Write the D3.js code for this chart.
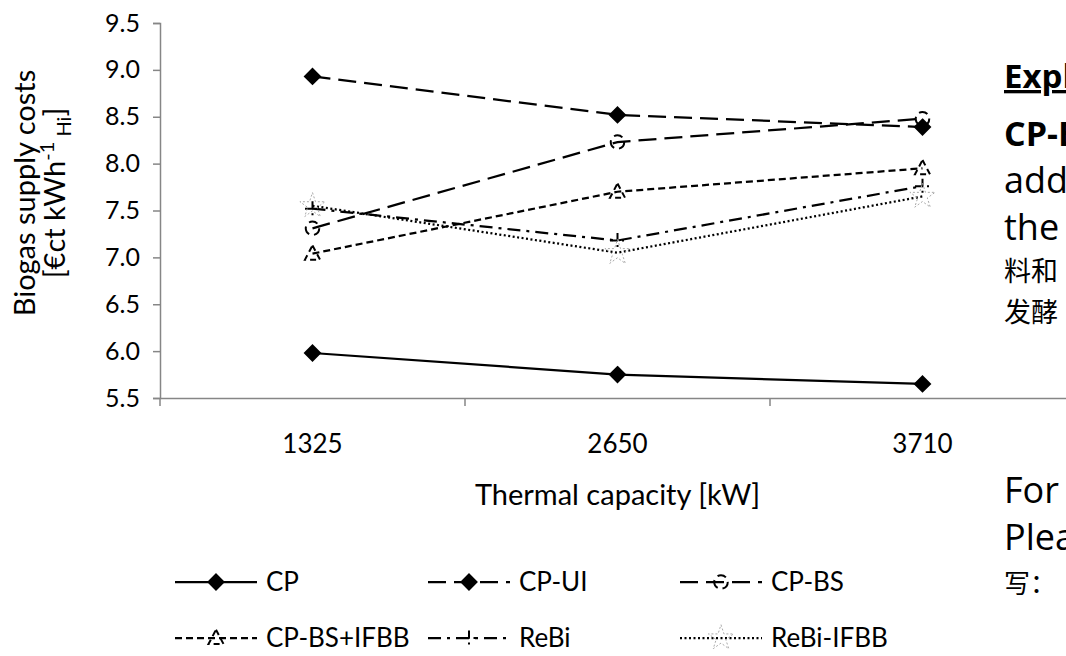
<!DOCTYPE html>
<html>
<head>
<meta charset="utf-8">
<script src="https://cdn.jsdelivr.net/npm/d3@7/dist/d3.min.js"></script>
<style>
  html, body { margin: 0; padding: 0; background: #fff; overflow: hidden; }
  svg { display: block; font-family: Lato, "Open Sans", sans-serif; }
</style>
</head>
<body>
<svg id="chart" width="1066" height="656"></svg>
<script>
// ---- data ----
const categories = ["1325", "2650", "3710"];
const yTicks = [5.5, 6.0, 6.5, 7.0, 7.5, 8.0, 8.5, 9.0, 9.5];
const seriesNames = ["CP", "CP-UI", "CP-BS", "CP-BS+IFBB", "ReBi", "ReBi-IFBB"];
const cpValues = [5.98, 5.75, 5.65];
const cpUiValues = [8.93, 8.52, 8.39];
const cpBsValues = [7.31, 8.23, 8.48];
const cpBsIfbbValues = [7.04, 7.70, 7.95];
const rebiValues = [7.52, 7.18, 7.76];
const rebiIfbbValues = [7.55, 7.05, 7.65];
const noteLines = ["Explanation:", "CP-BS:", "addition", "the", "料和", "发酵", "For", "Please", "写："];

const seriesValues = [cpValues, cpUiValues, cpBsValues, cpBsIfbbValues, rebiValues, rebiIfbbValues];

// ---- styles ----
const styles = {
  "CP":         {dash: null,        marker: "diamond", mStroke: "#000", mFill: "#000", mDash: null},
  "CP-UI":      {dash: "18,8",      marker: "diamond", mStroke: "#000", mFill: "#000", mDash: null},
  "CP-BS":      {dash: "18,8",      marker: "circle",  mStroke: "#000", mFill: "none", mDash: "9,5"},
  "CP-BS+IFBB": {dash: "7,4",       marker: "triangle",mStroke: "#000", mFill: "none", mDash: "6,4"},
  "ReBi":       {dash: "13,6,3,6",  marker: "plus",    mStroke: "#000", mFill: "none", mDash: "8,4,2,4"},
  "ReBi-IFBB":  {dash: "2,2.5",     marker: "star",    mStroke: "#aaa", mFill: "none", mDash: "2,2"}
};

const svg = d3.select("#chart");
const mLeft = 160, mRight = 1075, mTop = 23, mBottom = 398;

const x = d3.scaleBand().domain(categories).range([mLeft, mRight]).padding(0);
const y = d3.scaleLinear().domain([5.5, 9.5]).range([mBottom, mTop]);
const axisColor = "#868686";

// y axis
const yAxis = svg.append("g").attr("transform", `translate(${mLeft},0)`)
  .call(d3.axisLeft(y).tickValues(yTicks).tickSize(7).tickPadding(13).tickFormat(d3.format(".1f")));
yAxis.select(".domain").attr("stroke", axisColor).attr("stroke-width", 1.5);
yAxis.selectAll(".tick line").attr("stroke", axisColor).attr("stroke-width", 1.5);
yAxis.selectAll(".tick text").attr("font-size", 25).attr("fill", "#000").attr("font-family", "Lato, sans-serif");

// x axis
const xAxis = svg.append("g").attr("transform", `translate(0,${mBottom})`)
  .call(d3.axisBottom(x).tickSize(0).tickPadding(37));
xAxis.select(".domain").attr("stroke", axisColor).attr("stroke-width", 1.5);
xAxis.selectAll(".tick text").attr("font-size", 26).attr("fill", "#000").attr("font-family", "Lato, sans-serif");
// category boundary tick marks
const bounds = categories.map(c => x(c)).concat([x.range()[1]]);
svg.append("g").selectAll("line").data(bounds).join("line")
  .attr("x1", d => d).attr("x2", d => d)
  .attr("y1", mBottom).attr("y2", mBottom + 8)
  .attr("stroke", axisColor).attr("stroke-width", 1.5);

// axis titles
svg.append("text").attr("x", (mLeft + mRight) / 2).attr("y", 505)
  .attr("text-anchor", "middle").attr("font-size", 29).text("Thermal capacity [kW]");

const yl = svg.append("g").attr("transform", "translate(0,193) rotate(-90)");
yl.append("text").attr("x", 0).attr("y", 35).attr("text-anchor", "middle").attr("font-size", 29)
  .text("Biogas supply costs");
const yl2 = yl.append("text").attr("x", 0).attr("y", 65).attr("text-anchor", "middle").attr("font-size", 29);
yl2.append("tspan").text("[€ct kWh");
yl2.append("tspan").attr("dy", -11).attr("font-size", 20).text("-1");
yl2.append("tspan").attr("dy", 17).attr("font-size", 20).text(" Hi");
yl2.append("tspan").attr("dy", -6).text("]");

// marker drawing
function drawMarker(g, type, st, size) {
  const s = size;
  let el;
  if (type === "diamond") {
    el = g.append("path").attr("d", `M0,${-s}L${s},0L0,${s}L${-s},0Z`);
  } else if (type === "circle") {
    el = g.append("circle").attr("r", s * 0.9);
  } else if (type === "triangle") {
    el = g.append("path").attr("d", `M0,${-s * 1.1}L${s},${s * 0.8}L${-s},${s * 0.8}Z`);
  } else if (type === "plus") {
    el = g.append("path").attr("d", `M${-s},0L${s},0M0,${-s}L0,${s}`);
  } else if (type === "star") {
    el = g.append("path").attr("d", d3.symbol(d3.symbolStar, s * s * 3.5)());
  }
  el.attr("fill", st.mFill).attr("stroke", st.mStroke).attr("stroke-width", type === "star" ? 1 : 2);
  if (st.mDash) el.attr("stroke-dasharray", st.mDash);
}

const line = d3.line().x((d, i) => x(categories[i]) + x.bandwidth() / 2).y(d => y(d));

seriesNames.forEach((name, si) => {
  const st = styles[name];
  const vals = seriesValues[si];
  const g = svg.append("g");
  g.append("path").datum(vals).attr("d", line).attr("fill", "none")
    .attr("stroke", "#000").attr("stroke-width", 2.25)
    .attr("stroke-dasharray", st.dash);
  vals.forEach((v, i) => {
    const mg = g.append("g").attr("transform", `translate(${x(categories[i]) + x.bandwidth() / 2},${y(v)})`);
    drawMarker(mg, st.marker, st, 7.5);
  });
});

// legend
const legendPos = [
  {x: 175, y: 582}, {x: 428, y: 582}, {x: 680, y: 582},
  {x: 175, y: 638}, {x: 428, y: 638}, {x: 680, y: 638}
];
seriesNames.forEach((name, i) => {
  const st = styles[name];
  const p = legendPos[i];
  const g = svg.append("g").attr("transform", `translate(${p.x},${p.y})`);
  g.append("line").attr("x1", 0).attr("x2", 82).attr("y1", 0).attr("y2", 0)
    .attr("stroke", "#000").attr("stroke-width", 2.25).attr("stroke-dasharray", st.dash);
  const mg = g.append("g").attr("transform", "translate(41,0)");
  drawMarker(mg, st.marker, st, 7.5);
  g.append("text").attr("x", 91).attr("y", 9).attr("font-size", 26).text(name);
});

// side note text (clipped by the page edge)
const noteX = 1004;
const noteY = [88, 146, 193, 240, 281, 322, 503, 550, 593];
const noteSize = [33, 34, 36, 36, 27, 27, 36, 36, 26];
noteLines.forEach((t, i) => {
  const tx = svg.append("text").attr("x", noteX).attr("y", noteY[i])
    .attr("font-size", noteSize[i])
    .attr("font-family", /[\u4e00-\u9fff\uff1a]/.test(t) ? "'Noto Sans CJK SC', sans-serif" : "'Open Sans', sans-serif")
    .text(t);
  if (i === 0) tx.attr("font-weight", "bold").attr("text-decoration", "underline");
  if (i === 1) tx.attr("font-weight", "bold");
});
</script>
</body>
</html>
